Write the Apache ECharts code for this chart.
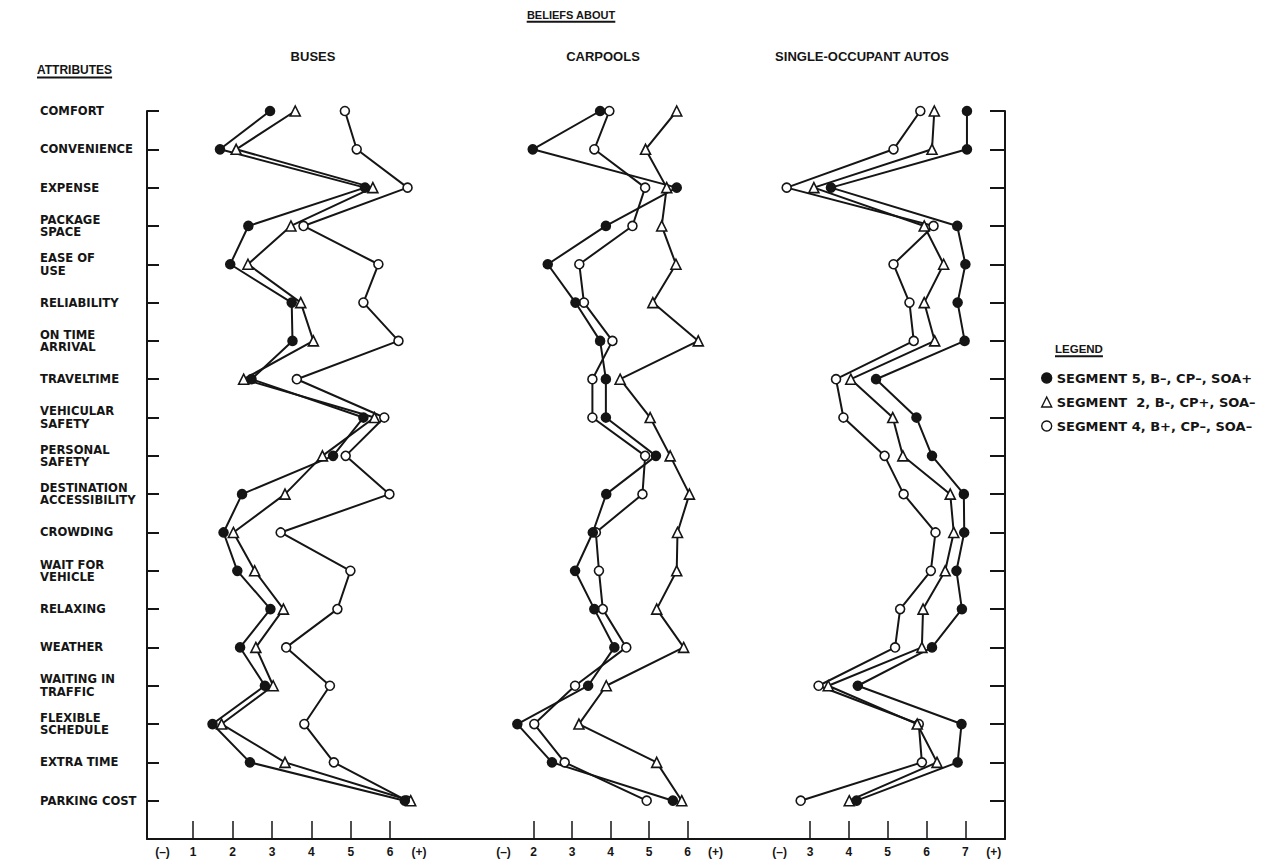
<!DOCTYPE html>
<html>
<head>
<meta charset="utf-8">
<title>Beliefs about buses, carpools and single-occupant autos</title>
<script src="https://cdn.jsdelivr.net/npm/echarts@6/dist/echarts.min.js"></script>
<style>
  html, body { margin: 0; padding: 0; background: #fff; }
  #chart { width: 1264px; height: 862px; }
</style>
</head>
<body>
<div id="chart"></div>
<script>
// Attribute rows, top to bottom
const attributes = [
  'COMFORT', 'CONVENIENCE', 'EXPENSE', 'PACKAGE\nSPACE', 'EASE OF\nUSE',
  'RELIABILITY', 'ON TIME\nARRIVAL', 'TRAVELTIME', 'VEHICULAR\nSAFETY',
  'PERSONAL\nSAFETY', 'DESTINATION\nACCESSIBILITY', 'CROWDING',
  'WAIT FOR\nVEHICLE', 'RELAXING', 'WEATHER', 'WAITING IN\nTRAFFIC',
  'FLEXIBLE\nSCHEDULE', 'EXTRA TIME', 'PARKING COST'
];

// Segment names (legend)
const seg5Name = 'SEGMENT 5, B\u2013, CP\u2013, SOA+';
const seg2Name = 'SEGMENT  2, B-, CP+, SOA\u2013';
const seg4Name = 'SEGMENT 4, B+, CP\u2013, SOA\u2013';

// Headings
const mainTitle = 'BELIEFS ABOUT';
const rowTitle = 'ATTRIBUTES';
const legendTitle = 'LEGEND';
const panelTitles = ['BUSES', 'CARPOOLS', 'SINGLE-OCCUPANT AUTOS'];

// Scale tick labels per panel
const busTicks = [1, 2, 3, 4, 5, 6];
const carpoolTicks = [2, 3, 4, 5, 6];
const soaTicks = [3, 4, 5, 6, 7];
const negLabel = '(\u2013)';
const posLabel = '(+)';

// Mean belief ratings: buses
const busSeg5 = [2.95, 1.68, 5.36, 2.40, 1.94, 3.50, 3.52, 2.48, 5.32, 4.55, 2.24, 1.77, 2.12, 2.96, 2.19, 2.82, 1.49, 2.44, 6.37];
const busSeg2 = [3.59, 2.09, 5.56, 3.48, 2.39, 3.73, 4.05, 2.28, 5.60, 4.28, 3.33, 2.02, 2.56, 3.29, 2.59, 3.03, 1.72, 3.33, 6.52];
const busSeg4 = [4.85, 5.15, 6.44, 3.80, 5.70, 5.32, 6.21, 3.63, 5.85, 4.87, 5.98, 3.22, 4.99, 4.66, 3.36, 4.47, 3.82, 4.57, 6.42];

// Mean belief ratings: carpools
const cpSeg5 = [3.73, 1.98, 5.72, 3.88, 2.37, 3.09, 3.73, 3.88, 3.88, 5.18, 3.89, 3.54, 3.08, 3.58, 4.10, 3.42, 1.58, 2.48, 5.62];
const cpSeg2 = [5.72, 4.91, 5.46, 5.33, 5.70, 5.10, 6.28, 4.25, 5.03, 5.55, 6.05, 5.74, 5.72, 5.20, 5.90, 3.89, 3.18, 5.20, 5.85];
const cpSeg4 = [3.97, 3.58, 4.90, 4.57, 3.19, 3.31, 4.05, 3.53, 3.53, 4.90, 4.83, 3.62, 3.70, 3.80, 4.41, 3.08, 2.02, 2.81, 4.94];

// Mean belief ratings: single-occupant autos
const soaSeg5 = [7.04, 7.04, 3.54, 6.79, 7.00, 6.80, 6.98, 4.70, 5.74, 6.14, 6.96, 6.97, 6.77, 6.91, 6.14, 4.23, 6.90, 6.80, 4.20];
const soaSeg2 = [6.20, 6.14, 3.10, 5.94, 6.44, 5.94, 6.21, 4.05, 5.13, 5.39, 6.61, 6.70, 6.48, 5.91, 5.88, 3.47, 5.76, 6.27, 4.01];
const soaSeg4 = [5.84, 5.15, 2.40, 6.18, 5.15, 5.56, 5.67, 3.67, 3.86, 4.92, 5.41, 6.23, 6.11, 5.32, 5.19, 3.22, 5.80, 5.88, 2.76];

const INK = '#151515';
const SANS = '"Liberation Sans", Arial, sans-serif';
const WIDE = '"DejaVu Sans", Verdana, sans-serif';

// one blank slot after the last row so the frame reaches the baseline
const rows = attributes.concat(['']);

const FRAME_LEFT = 147, FRAME_RIGHT = 1005;
const TOP = 111, HEIGHT = 728;

const panels = [
  { ticks: busTicks, min: 0, max: 7, left: 153.8, width: 275.8, data: [busSeg5, busSeg2, busSeg4] },
  { ticks: carpoolTicks, min: 1, max: 8, left: 495, width: 269.5, data: [cpSeg5, cpSeg2, cpSeg4] },
  { ticks: soaTicks, min: 2, max: 8, left: 771.15, width: 233.1, data: [soaSeg5, soaSeg2, soaSeg4] }
];

const styles = [
  { name: seg5Name, symbol: 'circle', size: 9, fill: INK },
  { name: seg2Name, symbol: 'triangle', size: 10, fill: '#fff' },
  { name: seg4Name, symbol: 'circle', size: 9, fill: '#fff' }
];

// frame: baseline plus left and right attribute axes
const grids = [{ left: FRAME_LEFT, width: FRAME_RIGHT - FRAME_LEFT, top: TOP, height: HEIGHT }];
const xAxes = [{
  type: 'value', gridIndex: 0, min: 0, max: 1,
  axisLine: { show: true, lineStyle: { color: INK, width: 2 } },
  axisTick: { show: false }, axisLabel: { show: false }, splitLine: { show: false }
}];
const yAxes = [
  {
    type: 'category', gridIndex: 0, data: rows, boundaryGap: false, inverse: true,
    axisLine: { show: true, lineStyle: { color: INK, width: 2 } },
    axisTick: { show: true, inside: true, length: 12, lineStyle: { color: INK, width: 2 },
      interval: (i) => i < attributes.length },
    axisLabel: { show: true, interval: 0, align: 'left', margin: FRAME_LEFT - 40, color: INK,
      fontFamily: WIDE, fontWeight: 'bold', fontSize: 11.6, lineHeight: 12.5 },
    splitLine: { show: false }
  },
  {
    type: 'category', gridIndex: 0, position: 'right', data: rows, boundaryGap: false, inverse: true,
    axisLine: { show: true, lineStyle: { color: INK, width: 2 } },
    axisTick: { show: true, inside: true, length: 15, lineStyle: { color: INK, width: 2 },
      interval: (i) => i < attributes.length },
    axisLabel: { show: false }, splitLine: { show: false }
  }
];
const series = [];

panels.forEach((p, k) => {
  const g = k + 1;
  grids.push({ left: p.left, width: p.width, top: TOP, height: HEIGHT });
  const first = p.ticks[0], last = p.ticks[p.ticks.length - 1];
  const labelValues = [first - 0.78].concat(p.ticks, [last + 0.73]);
  xAxes.push({
    type: 'value', gridIndex: g, min: p.min, max: p.max, interval: 1,
    axisLine: { show: false },
    axisTick: { show: true, inside: true, length: 18, customValues: p.ticks,
      lineStyle: { color: INK, width: 1.5 } },
    axisLabel: { show: true, customValues: labelValues, margin: 7, color: INK,
      fontFamily: SANS, fontWeight: 'bold', fontSize: 12,
      formatter: (v) => v < first ? negLabel : (v > last ? posLabel : String(v)) },
    splitLine: { show: false }
  });
  yAxes.push({
    type: 'category', gridIndex: g, data: rows, boundaryGap: false, inverse: true, show: false
  });
  const yIndex = yAxes.length - 1;
  // open markers first, filled last
  [2, 1, 0].forEach((s) => {
    const st = styles[s];
    series.push({
      type: 'line', name: st.name, xAxisIndex: g, yAxisIndex: yIndex,
      data: p.data[s],
      symbol: st.symbol, symbolSize: st.size, showSymbol: true, showAllSymbol: true,
      lineStyle: { color: INK, width: 2 },
      itemStyle: { color: st.fill, borderColor: INK, borderWidth: 1.6 },
      emphasis: { disabled: true },
      animation: false
    });
  });
});

// text width helper for the underlines
const measureCtx = document.createElement('canvas').getContext('2d');
function textWidth(text, size, family) {
  measureCtx.font = 'bold ' + size + 'px ' + family;
  return measureCtx.measureText(text).width;
}

const graphics = [];
function heading(text, cx, cy, size, family, underline) {
  graphics.push({
    type: 'text', x: cx, y: cy,
    style: { text: text, textAlign: 'center', textVerticalAlign: 'middle',
      fontFamily: family, fontWeight: 'bold', fontSize: size, fill: INK }
  });
  if (underline) {
    const w = textWidth(text, size, family);
    graphics.push({
      type: 'line',
      shape: { x1: cx - w / 2, y1: cy + size * 0.62, x2: cx + w / 2, y2: cy + size * 0.62 },
      style: { stroke: INK, lineWidth: 2 }
    });
  }
}
heading(mainTitle, 571, 15, 11, SANS, true);
heading(rowTitle, 37 + textWidth(rowTitle, 12, SANS) / 2, 70, 12, SANS, true);
heading(legendTitle, 1055 + textWidth(legendTitle, 11.5, SANS) / 2, 349, 11.5, SANS, true);
const headingCenters = [313, 603, 862];
panelTitles.forEach((t, i) => heading(t, headingCenters[i], 56, 13, SANS, false));

const chart = echarts.init(document.getElementById('chart'), null, { renderer: 'svg' });
chart.setOption({
  backgroundColor: '#fff',
  animation: false,
  grid: grids,
  xAxis: xAxes,
  yAxis: yAxes,
  series: series,
  legend: {
    orient: 'vertical', left: 1036, top: 366,
    itemWidth: 10, itemHeight: 10, itemGap: 10,
    lineStyle: { opacity: 0 },
    textStyle: { color: INK, fontFamily: WIDE, fontWeight: 'bold', fontSize: 13, lineHeight: 14 },
    selectedMode: false,
    data: styles.map((st) => ({
      name: st.name, icon: st.symbol,
      itemStyle: { color: st.fill, borderColor: INK, borderWidth: 1.4 }
    }))
  },
  graphic: graphics
});
</script>
</body>
</html>
